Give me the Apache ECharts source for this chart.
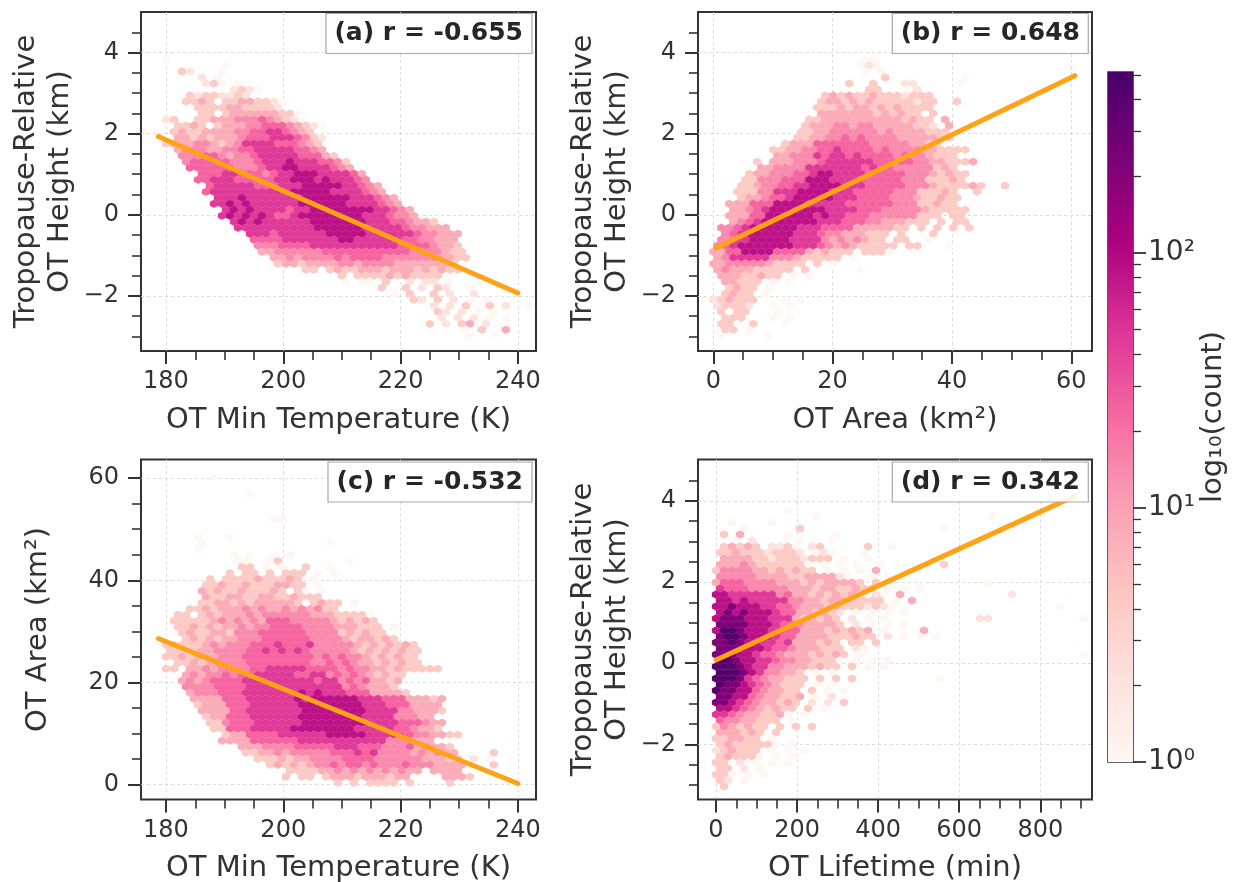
<!DOCTYPE html>
<html><head><meta charset="utf-8">
<style>html,body{margin:0;padding:0;background:#fff}#c{width:1241px;height:882px}</style>
<script src="https://cdn.jsdelivr.net/npm/echarts@6/dist/echarts.min.js"></script>
</head><body><div id="c"></div>
<script>
// one character per hexagon: '.' empty, otherwise an index into levelCounts
const levelCounts = {1:1,2:2,3:4,4:8,5:14,6:24,7:45,8:85,9:220,a:420};
const hexRowsA = [
".1","........1","...32...1",".....2.1","......231.1",".........2321","....32332232",
"...3343.33443321",".....33334433332",".....33.3444444331",".23..33444555654321",
"..3343.34445566654321","..343344445566776543","..4434344456667776532",".34445543457777666543",
"..4555445566777776654","...55566545567777766643","...566666555677787776653","....666666555677887777654",
".....666776665677888777764",".....6677766666778887877765","......6777776667778888877654","......67777777777888887777654",
".......77787777777888888777654",".......778787777778888887777654","........787877776778888888877654","........7878787667888888887776554",
".........78787777778888888777665443","..........777777777788888877777655444","...........777677777788888777777655444","............66667777777887777776655444",
"............55566667777777777766665443",".............44555555666666666665555433","..............4454555565666655555554433","...............34434444554555544444443",
"..................33.34334443444343433",".......................3.33334343333",".......................1.11.3..2.22.1","............................3..3.2.32..1",
".............................1.3..3.2..2","................................32.3.2.1.1","..................................2.2.3..3.2..1","...................................32.2.1.1",
"...................................2.2.2.1.1","..................................3.2.34.2..1","......................................1.3..4",".......................................1..1"];
const hexRowsB = [
"...................11","..................121","...................1.1",".....................3.........1",
".................3..3...22.....1","...................33...12","..............34343343332333",".............344343433333233..3",
".............333434434343333",".............4444444343433.3","............3344444444443433.4","...........34445545544444332.4",
"...........3344555555454444333","..........33445565655554444433",".........34446666666555554433",".......3344556676666565555443333",
"........44555767767666656554333",".....3.44455567777776666655443334","......4455557777777676655555343","....3445556678877776666655543433",
"....3355566688877776666655533343","...3345566778888777666665554333343..3","...3335577788887776666655533343..3","...3445667888887776666555433433",
"..44466688887777766666655533433","..445678888888777766655555433333","..444668888887877666555555333.33","..4567888888877766655444333.3.33",
".556788888877766664444433.3.3.3.3",".567888888777655444333.3...3",".557788888777754545433.33..1","56788888887776545433333.33...1",
"446688886666434333.3331","4577777555433333.1","445555543333.3.1","4544433333.3......1",
".44433433.1.1",".44333.1.1","..3433.1",".3433.1","234333...1.1","23332..1.1",".3.33...1",".333...1.1",".33..3...1",".33.1",".1.....1"];
const hexRowsC = [
".......1","","","...........1","","","","..............11","","",
".....1...1",".....1...............1",".....1",".........1.1..1.1","..........11..13........1","..........33.1.1..3..1",
".........3.33.3.333.1.1","......3.3333433343.1","......3343343334433.1",".....43433433343.31.1","......433443344334333",".....3344343444443.3433.1",
"....3343444545445454533","..33.3434445455555544433331",
"..33333454545466655555434343","..33434344545566665555444333.1",
"...34334435556666665555343433","...343434455566666655554344343",
".33333454555666766675555543434343",".33334455556676767655555434343433",
".33434445556666666665656554343433","..3343455556666666655656544343433",
".33.44545555667777766665655443433333","...4545565667777766775656543433",
"...4545666677777777767756564434","...555566667777777777775654443",
"....4555666777777787877766644443","....44446667777778788888877766644434",
".....3444666777777888888887776664444",".....4444667777777888888887777554443",
"......34466677777788888888777755544","......335666777777888888887777666544",
".......33666777778888888877777665443","........344666677777788888777766554433",
"........444466666677777777777555444","..........444555566666777666555645443",
"...........334454555556667675555454544....3","............33343445555666655555544433.2.1",
"..............3434345565665655565554444...3","................33334454545454544.4444",
"................3.33.34443444344....4443","......................3.3.3333.3....3"];
const hexRowsD = [
".........1","............1.....................1","..1....1","...1......3.................1",".3.4.....1.....1","..1.2...1.1.1.1",
".34343.2231.23.....3..1","33433323332.121...1",".44443323332333.1..1","444543333331.1.1.1..1.....1.3",
"3555544343433.1.1.1.4","55555444433444421..1.1","4666555544434344443.3.1...........1","76665555544434433433.1.1.1",
"8877777756443434342.21.4.............2","887877777554434433333.1.4","88988877665444343332321....................1","8989888766443432.1.1.1.1",
"8999888777434343.2.1.1...........22...........1","9999888766544443.2.1.1.1","8aa98887766444343434.1....4","9aa98887664444333433.2.1.1.1",
"99a9887767444343.33.3","9998887665444333.21","99988766544434343.1...........................1","aa98877655443331.1.1.1",
"aaa9877554443433.3.1.1","aaa98755443.1.1","aaa976544333.3.3.3..........1","a9987654333.1.1",
"a9988654433.3.1.1","99886544334.1.2","99876544343.2.2.3","8876543433.3.1","7765443341.1","65544333.1",
"3543433.3.3.3","444343.3","334433.1","34333331.1","234333.1.1.1","343331.1.1","33.2.1.1.1","33.2.1","331.1.1","32.1",".3"];
const xTempMajor=[180,200,220,240], xTempMinor=[180,185,190,195,200,205,210,215,220,225,230,235,240];
const xAreaMajor=[0,20,40,60], xAreaMinor=[0,5,10,15,20,25,30,35,40,45,50,55,60];
const xLifeMajor=[0,200,400,600,800], xLifeMinor=[0,50,100,150,200,250,300,350,400,450,500,550,600,650,700,750,800,850,900];
const yHeightMajor=[-2,0,2,4], yHeightMinor=[-3,-2.5,-2,-1.5,-1,-0.5,0,0.5,1,1.5,2,2.5,3,3.5,4,4.5];
const yAreaMajor=[0,20,40,60], yAreaMinor=[0,5,10,15,20,25,30,35,40,45,50,55,60];
const cbMajor=[1,10,100], cbMinor=[2,3,4,5,6,7,8,9,20,30,40,50,60,70,80,90,200,300,400,500];
const lineA=[[178.7,1.93],[240,-1.93]], lineB=[[0.5,-0.82],[60.6,3.43]], lineC=[[178.7,28.6],[240,0.2]], lineD=[[0,0.08],[887,4.13]];
const captions=["(a) r = -0.655","(b) r = 0.648","(c) r = -0.532","(d) r = 0.342"];
const xNames=["OT Min Temperature (K)","OT Area (km²)","OT Min Temperature (K)","OT Lifetime (min)"];
const yNames=["Tropopause-Relative\nOT Height (km)","Tropopause-Relative\nOT Height (km)","OT Area (km²)","Tropopause-Relative\nOT Height (km)"];
const VMAX=514;
const RdPu=['#fff7f3','#fde0dd','#fcc5c0','#fa9fb5','#f768a1','#dd3497','#ae017e','#7a0177','#49006a'];
const FONT='"DejaVu Sans"', INK='#333333';
function colorOf(n){return echarts.color.lerp(Math.log10(n)/Math.log10(VMAX),RdPu);}
function cells(rows,L){const out=[];rows.forEach((r,i)=>{for(let j=0;j<r.length;j++){const k=r[j];if(k==='.')continue;
  out.push([L.x0+L.dx*(j+(i%2?0.5:0)),L.y0+L.dy*i,levelCounts[k]]);}});return out;}
const panels=[
 {rows:hexRowsA,lat:{x0:178.64,dx:1.3636,y0:3.827,dy:-0.1481},grid:{left:141,top:12,width:395,height:339},xr:[175.74,243.1],yr:[-3.36,5.0],xM:xTempMajor,xm:xTempMinor,yM:yHeightMajor,ym:yHeightMinor,line:lineA,box:{right:709,top:13},gap:64},
 {rows:hexRowsB,lat:{x0:0,dx:1.34,y0:3.827,dy:-0.1481},grid:{left:698,top:12,width:394,height:339},xr:[-2.56,63.47],yr:[-3.36,5.0],xM:xAreaMajor,xm:xAreaMinor,yM:yHeightMajor,ym:yHeightMinor,line:lineB,box:{right:152,top:13},gap:64},
 {rows:hexRowsC,lat:{x0:178.64,dx:1.3636,y0:60.25,dy:-1.175},grid:{left:141,top:459.5,width:395,height:340},xr:[175.74,243.1],yr:[-2.94,63.66],xM:xTempMajor,xm:xTempMinor,yM:yAreaMajor,ym:yAreaMinor,line:lineC,box:{right:709,top:461.5},gap:86},
 {rows:hexRowsD,lat:{x0:0,dx:19.73,y0:3.76,dy:-0.1478},grid:{left:698,top:459.5,width:394,height:340},xr:[-44.4,927.5],yr:[-3.36,5.02],xM:xLifeMajor,xm:xLifeMinor,yM:yHeightMajor,ym:yHeightMinor,line:lineD,box:{right:152,top:461.5},gap:64}];
const grids=[],xAxes=[],yAxes=[],series=[],titles=[];
function axis(pos,idx,ext,major,minor,name,gap,margin){
  const base={type:'value',gridIndex:idx,position:pos,min:ext[0],max:ext[1],axisLine:{show:false,onZero:false}};
  return [
   Object.assign({},base,{name:name,nameLocation:'middle',nameGap:gap,nameTextStyle:{fontFamily:FONT,fontSize:29,color:INK,lineHeight:34},
    axisTick:{show:true,length:13,lineStyle:{color:INK,width:2},customValues:major},
    axisLabel:{show:true,customValues:major,fontFamily:FONT,fontSize:24,color:INK,margin:margin,showMinLabel:true,showMaxLabel:true,formatter:v=>String(v).replace('-','\u2212')},
    splitLine:{show:true,lineStyle:{color:'#d4d4d4',width:0.8,type:[3,3]}}}),
   Object.assign({},base,{axisTick:{show:true,length:9,lineStyle:{color:INK,width:1.6},customValues:minor},axisLabel:{show:false},splitLine:{show:false}})
  ];
}
panels.forEach((p,k)=>{
  grids.push(Object.assign({show:true,borderColor:INK,borderWidth:2,backgroundColor:'#fff',containLabel:false,outerBoundsMode:'none'},p.grid));
  const base=xAxes.length;
  axis('bottom',k,p.xr,p.xM,p.xm,xNames[k],52,19).forEach(a=>xAxes.push(a));
  axis('left',k,p.yr,p.yM,p.ym,yNames[k],p.gap,22).forEach(a=>yAxes.push(a));
  series.push({type:'custom',xAxisIndex:base,yAxisIndex:base,coordinateSystem:'cartesian2d',clip:true,silent:true,z:2,
    data:cells(p.rows,p.lat),
    renderItem:(params,api)=>{const c=api.coord([api.value(0),api.value(1)]);const s=api.size([p.lat.dx,Math.abs(p.lat.dy)]);
      const w=s[0]/2,h=s[1];const col=colorOf(api.value(2));
      return {type:'polygon',shape:{points:[[c[0]+w,c[1]-h/3],[c[0]+w,c[1]+h/3],[c[0],c[1]+2*h/3],[c[0]-w,c[1]+h/3],[c[0]-w,c[1]-h/3],[c[0],c[1]-2*h/3]]},
        style:{fill:col,stroke:col,lineWidth:0.3}};},
    encode:{x:0,y:1}});
  series.push({type:'line',xAxisIndex:base,yAxisIndex:base,data:p.line,symbol:'none',silent:true,z:3,
    lineStyle:{color:'#ffa215',width:5,cap:'round'}});
  titles.push({text:captions[k],right:p.box.right,top:p.box.top,padding:[8,9,8,9],backgroundColor:'rgba(255,255,255,0.88)',borderColor:'#a8a8a8',borderWidth:1.2,
    textStyle:{fontFamily:FONT,fontWeight:'bold',fontSize:25,color:'#262626'}});
});
// colour bar
grids.push({show:true,left:1108,top:72,width:25,height:690,borderColor:INK,borderWidth:1.6,backgroundColor:'transparent',outerBoundsMode:'none'});
xAxes.push({type:'value',gridIndex:4,min:0,max:1,show:false});
yAxes.push({type:'log',gridIndex:4,min:1,max:VMAX,position:'right',logBase:10,name:'log₁₀(count)',nameLocation:'middle',nameRotate:90,nameGap:66,
  nameTextStyle:{fontFamily:FONT,fontSize:29,color:INK},
  axisLine:{show:false,onZero:false},splitLine:{show:false},
  axisTick:{show:true,length:13,lineStyle:{color:INK,width:1.8},customValues:cbMajor},
  axisLabel:{show:true,customValues:cbMajor,fontFamily:FONT,fontSize:28,color:INK,margin:15,formatter:v=>({1:'10⁰',10:'10¹',100:'10²'})[Math.round(v)]}});
yAxes.push({type:'log',gridIndex:4,min:1,max:VMAX,position:'right',logBase:10,axisLine:{show:false,onZero:false},splitLine:{show:false},axisLabel:{show:false},
  axisTick:{show:true,length:8,lineStyle:{color:INK,width:1.3},customValues:cbMinor}});
const xi=xAxes.length-1, yi=yAxes.length-2;
series.push({type:'custom',xAxisIndex:xi,yAxisIndex:yi,silent:true,data:[[0,VMAX,1,1]],clip:false,z:1,
  renderItem:(params,api)=>{const a=api.coord([0,api.value(1)]),b=api.coord([api.value(2),api.value(3)]);
   return {type:'rect',shape:{x:a[0],y:a[1],width:b[0]-a[0],height:b[1]-a[1]},style:{fill:new echarts.graphic.LinearGradient(0,1,0,0,RdPu.map((c,i)=>({offset:i/(RdPu.length-1),color:c})))}};}});
const chart=echarts.init(document.getElementById('c'),null,{renderer:'canvas'});
chart.setOption({animation:false,backgroundColor:'#fff',title:titles,grid:grids,xAxis:xAxes,yAxis:yAxes,series:series});
</script></body></html>
